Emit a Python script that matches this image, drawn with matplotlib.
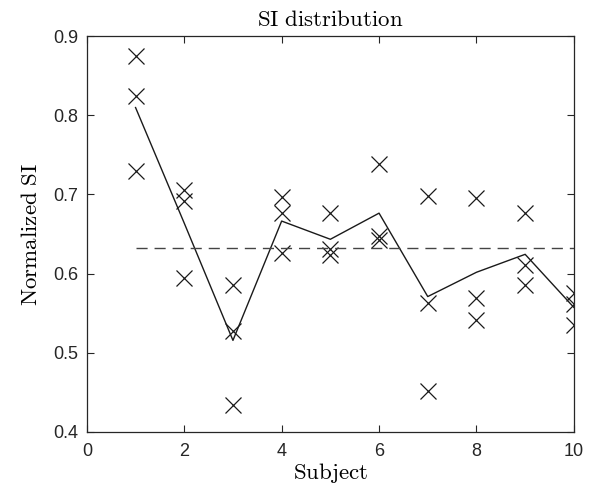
import numpy as np
import matplotlib
matplotlib.use("Agg")
import matplotlib.pyplot as plt

plt.rcParams['mathtext.fontset'] = 'cm'

subjects = [1, 2, 3, 4, 5, 6, 7, 8, 9, 10]
trial_a = [0.875, 0.705, 0.585, 0.697, 0.676, 0.738, 0.698, 0.695, 0.677, 0.575]
trial_b = [0.824, 0.692, 0.528, 0.676, 0.631, 0.648, 0.563, 0.569, 0.611, 0.562]
trial_c = [0.730, 0.594, 0.434, 0.626, 0.623, 0.643, 0.452, 0.541, 0.585, 0.535]

x_ticks = [0, 2, 4, 6, 8, 10]
y_ticks = [0.4, 0.5, 0.6, 0.7, 0.8, 0.9]

trials = np.array([trial_a, trial_b, trial_c])
means = trials.mean(axis=0)
grand_mean = means.mean()

fig = plt.figure(figsize=(5.99, 4.90), dpi=100)
ax = fig.add_axes([0.145, 0.1184, 0.813, 0.8081])

col = '#1a1a1a'
for tr in trials:
    ax.plot(subjects, tr, linestyle='none', marker='x', markersize=11,
            markeredgewidth=0.9, color=col)
ax.plot(subjects, means, '-', color=col, linewidth=1.0)
ax.plot([subjects[0], subjects[-1]], [grand_mean, grand_mean], '--',
        color='#444444', linewidth=1.0, dashes=(8, 5))

ax.set_xlim(0, 10)
ax.set_ylim(0.4, 0.9)
ax.set_xticks(x_ticks)
ax.set_yticks(y_ticks)
ax.set_xticklabels([str(t) for t in x_ticks], fontfamily='Liberation Sans', fontsize=13)
ax.set_yticklabels([f"{t:.1f}" for t in y_ticks], fontfamily='Liberation Sans', fontsize=13)
ax.tick_params(direction='in', top=True, right=True, length=5, width=0.8,
               colors='#262626')
ax.tick_params(axis='x', pad=8)
ax.tick_params(axis='y', pad=6)
for s in ax.spines.values():
    s.set_color('#262626')
    s.set_linewidth(0.9)

ax.set_title(r'$\mathrm{SI\ distribution}$', fontsize=16.5, pad=7)
ax.set_xlabel(r'$\mathrm{Subject}$', fontsize=16.5, labelpad=1)
ax.set_ylabel(r'$\mathrm{Normalized\ SI}$', fontsize=16.5, labelpad=8)

fig.savefig('out.png', dpi=100)
